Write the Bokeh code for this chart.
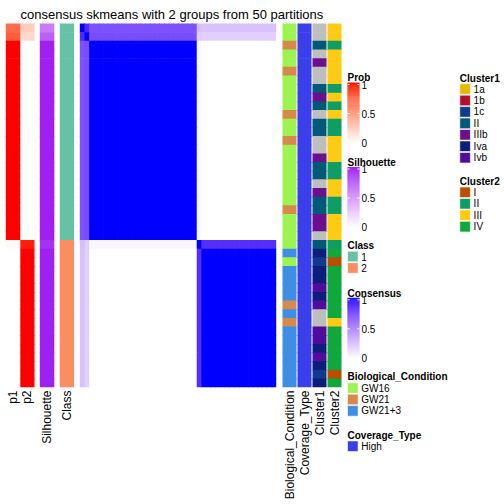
import math
from bokeh.plotting import figure
from bokeh.models import Range1d, ColumnDataSource, LinearColorMapper, CategoricalColorMapper
from bokeh.core.properties import value
from bokeh.embed import file_html
from bokeh.resources import INLINE

# ---------------- data ----------------
title_text = "consensus skmeans with 2 groups from 50 partitions"

p1 = [0.73, 0.80,
      1, 1, 1, 1, 1, 1, 1, 1, 1, 1, 1, 1, 1, 1, 1, 1, 1, 1, 1, 1, 1, 1, 1,
      0.03,
      0, 0, 0, 0, 0, 0, 0, 0, 0, 0, 0, 0, 0, 0, 0, 0]
p2 = [0.27, 0.20,
      0, 0, 0, 0, 0, 0, 0, 0, 0, 0, 0, 0, 0, 0, 0, 0, 0, 0, 0, 0, 0, 0, 0,
      0.97,
      1, 1, 1, 1, 1, 1, 1, 1, 1, 1, 1, 1, 1, 1, 1, 1]
silhouette = [0.65, 0.78,
              1, 1, 1, 1, 1, 1, 1, 1, 1, 1, 1, 1, 1, 1, 1, 1, 1, 1, 1, 1, 1, 1, 1,
              0.95,
              1, 1, 1, 1, 1, 1, 1, 1, 1, 1, 1, 1, 1, 1, 1, 1]
class_label = ["1", "1",
               "1", "1", "1", "1", "1", "1", "1", "1", "1", "1", "1", "1",
               "1", "1", "1", "1", "1", "1", "1", "1", "1", "1", "1",
               "2",
               "2", "2", "2", "2", "2", "2", "2", "2", "2", "2", "2", "2", "2", "2", "2", "2"]
biological_condition = [
    "GW16", "GW16", "GW21", "GW16", "GW16", "GW21", "GW16", "GW16", "GW16", "GW16",
    "GW21", "GW16", "GW16", "GW21", "GW16", "GW16", "GW16", "GW16", "GW16", "GW16",
    "GW16", "GW21", "GW16", "GW16", "GW16", "GW16", "GW21+3", "GW16", "GW21+3", "GW21+3",
    "GW21+3", "GW21+3", "GW21", "GW21+3", "GW21", "GW21+3", "GW21+3", "GW21+3", "GW21+3", "GW21+3",
    "GW21+3", "GW21+3"]
coverage_type = ["High"] * 42
cluster1 = [
    "NA", "NA", "II", "NA", "IIIb", "NA", "NA", "II", "IIIb", "II",
    "NA", "II", "II", "NA", "NA", "IIIb", "II", "II", "NA", "IIIb",
    "II", "II", "IIIb", "IIIb", "NA", "II", "Iva", "1c", "Iva", "Iva",
    "Ivb", "Iva", "Ivb", "NA", "NA", "Ivb", "Ivb", "Iva", "Ivb", "Iva",
    "1c", "Iva"]
cluster2 = [
    "III", "III", "II", "III", "III", "III", "III", "II", "III", "II",
    "III", "II", "II", "III", "III", "III", "II", "II", "III", "III",
    "II", "II", "III", "III", "III", "II", "IV", "I", "IV", "IV",
    "IV", "IV", "IV", "IV", "III", "IV", "IV", "IV", "IV", "IV",
    "I", "IV"]
# consensus: samples fall in blocks of identical rows; block-to-block consensus values
sample_group = ["a", "b",
                "c", "c", "c", "c", "c", "c", "c", "c", "c", "c", "c", "c",
                "c", "c", "c", "c", "c", "c", "c", "c", "c", "c", "c",
                "d",
                "e", "e", "e", "e", "e", "e", "e", "e", "e", "e", "e", "e", "e", "e", "e", "e"]
group_names = ["a", "b", "c", "d", "e"]
consensus_block = [
    [1.00, 0.90, 0.75, 0.28, 0.27],
    [0.90, 1.00, 0.77, 0.22, 0.21],
    [0.75, 0.77, 1.00, 0.04, 0.00],
    [0.28, 0.22, 0.04, 1.00, 0.89],
    [0.27, 0.21, 0.00, 0.89, 1.00],
]

class_levels = ["1", "2"]
class_colors = ["#66C2A5", "#FC8D62"]
bio_levels = ["GW16", "GW21", "GW21+3"]
bio_colors = ["#9DF34F", "#D5894B", "#3E8EE4"]
coverage_levels = ["High"]
coverage_colors = ["#3B3FEB"]
cluster1_levels = ["1a", "1b", "1c", "II", "IIIb", "Iva", "Ivb"]
cluster1_colors = ["#E8B800", "#B0102C", "#0F3A8F", "#005A77", "#6B0F8F", "#0B1F7A", "#520C9B"]
cluster2_levels = ["I", "II", "III", "IV"]
cluster2_colors = ["#B84F00", "#0E9E63", "#FDCB12", "#10A83A"]
na_color = "#BEBEBE"
legend_ticks = [0, 0.5, 1]
legend_tick_labels = ["0", "0.5", "1"]

# ---------------- LAB colour ramps ----------------
def _lin(c):
    c = c / 255.0
    return c / 12.92 if c <= 0.04045 else ((c + 0.055) / 1.055) ** 2.4

def _gam(c):
    c = max(0.0, min(1.0, c))
    v = 12.92 * c if c <= 0.0031308 else 1.055 * c ** (1 / 2.4) - 0.055
    return int(round(v * 255))

def _f(t):
    return t ** (1 / 3) if t > (6 / 29) ** 3 else t / (3 * (6 / 29) ** 2) + 4 / 29

def _finv(t):
    return t ** 3 if t > 6 / 29 else 3 * (6 / 29) ** 2 * (t - 4 / 29)

def hex_to_lab(h):
    h = h.lstrip("#")
    r, g, b = [_lin(int(h[i:i + 2], 16)) for i in (0, 2, 4)]
    X = 0.4124564 * r + 0.3575761 * g + 0.1804375 * b
    Y = 0.2126729 * r + 0.7151522 * g + 0.0721750 * b
    Z = 0.0193339 * r + 0.1191920 * g + 0.9503041 * b
    fx, fy, fz = _f(X / 0.95047), _f(Y), _f(Z / 1.08883)
    return 116 * fy - 16, 500 * (fx - fy), 200 * (fy - fz)

def lab_to_hex(L, a, b):
    fy = (L + 16) / 116
    fx = fy + a / 500
    fz = fy - b / 200
    X, Y, Z = 0.95047 * _finv(fx), _finv(fy), 1.08883 * _finv(fz)
    r = 3.2404542 * X - 1.5371385 * Y - 0.4985314 * Z
    g = -0.9692660 * X + 1.8760108 * Y + 0.0415560 * Z
    bb = 0.0556434 * X - 0.2040259 * Y + 1.0572252 * Z
    return "#%02x%02x%02x" % (_gam(r), _gam(g), _gam(bb))

def lab_ramp(c0, c1, n=256):
    l0, l1 = hex_to_lab(c0), hex_to_lab(c1)
    out = []
    for k in range(n):
        t = k / (n - 1)
        out.append(lab_to_hex(*[l0[i] + (l1[i] - l0[i]) * t for i in range(3)]))
    return out

prob_map = LinearColorMapper(palette=lab_ramp("#FFFFFF", "#FF0000"), low=0, high=1)
sil_map = LinearColorMapper(palette=lab_ramp("#FFFFFF", "#A020F0"), low=0, high=1)
cons_map = LinearColorMapper(palette=lab_ramp("#FFFFFF", "#0000FF"), low=0, high=1)
class_map = CategoricalColorMapper(factors=class_levels, palette=class_colors, nan_color=na_color)
bio_map = CategoricalColorMapper(factors=bio_levels, palette=bio_colors, nan_color=na_color)
cov_map = CategoricalColorMapper(factors=coverage_levels, palette=coverage_colors, nan_color=na_color)
c1_map = CategoricalColorMapper(factors=cluster1_levels, palette=cluster1_colors, nan_color=na_color)
c2_map = CategoricalColorMapper(factors=cluster2_levels, palette=cluster2_colors, nan_color=na_color)

# ---------------- figure ----------------
p = figure(width=504, height=504, x_range=Range1d(0, 504), y_range=Range1d(504, 0),
           x_axis_location=None, y_axis_location=None, min_border=0,
           output_backend="svg", toolbar_location=None)
p.outline_line_color = None
p.xgrid.grid_line_color = None
p.ygrid.grid_line_color = None
p.background_fill_color = "white"
p.border_fill_color = "white"

FONT = value("Liberation Sans")
N = len(p1)
ROW_TOP, ROW_BOTTOM = 23.0, 386.7
row_h = (ROW_BOTTOM - ROW_TOP) / N
OVER = 0.7  # small overlap so neighbouring cells leave no anti-aliasing seam
tops = [ROW_TOP + i * row_h for i in range(N)]
bottoms = [min(ROW_TOP + (i + 1) * row_h + OVER, ROW_BOTTOM) for i in range(N)]

def add_column(x0, x1, vals, mapper):
    src = ColumnDataSource(dict(left=[x0] * N, right=[x1] * N, top=tops, bottom=bottoms, v=list(vals)))
    fc = {"field": "v", "transform": mapper}
    p.quad(left="left", right="right", top="top", bottom="bottom", source=src,
           fill_color=fc, line_color=None)

col_spans = {
    "p1": (5.3, 19.8), "p2": (19.8, 34.0), "Silhouette": (39.3, 53.8), "Class": (59.3, 73.6),
    "Biological_Condition": (282.0, 296.0), "Coverage_Type": (297.0, 311.0),
    "Cluster1": (312.0, 326.0), "Cluster2": (327.0, 341.0),
}
add_column(col_spans["p1"][0], col_spans["p1"][1] + OVER, p1, prob_map)
add_column(*col_spans["p2"], p2, prob_map)
add_column(*col_spans["Silhouette"], silhouette, sil_map)
add_column(*col_spans["Class"], class_label, class_map)
add_column(*col_spans["Biological_Condition"], biological_condition, bio_map)
add_column(*col_spans["Coverage_Type"], coverage_type, cov_map)
add_column(*col_spans["Cluster1"], cluster1, c1_map)
add_column(*col_spans["Cluster2"], cluster2, c2_map)

# consensus matrix
CX0, CX1 = 79.3, 275.7
col_w = (CX1 - CX0) / N
cl, cr, ct, cb, cv = [], [], [], [], []
for i in range(N):
    gi = group_names.index(sample_group[i])
    for j in range(N):
        gj = group_names.index(sample_group[j])
        cl.append(CX0 + j * col_w)
        cr.append(min(CX0 + (j + 1) * col_w + OVER, CX1))
        ct.append(tops[i])
        cb.append(bottoms[i])
        cv.append(consensus_block[gi][gj])
csrc = ColumnDataSource(dict(left=cl, right=cr, top=ct, bottom=cb, v=cv))
cfc = {"field": "v", "transform": cons_map}
p.quad(left="left", right="right", top="top", bottom="bottom", source=csrc,
       fill_color=cfc, line_color=None)

# title
p.text(x=[20], y=[14.3], text=[title_text], text_font=FONT, text_font_size="13px",
       text_align="left", text_baseline="alphabetic", text_color="black")

# column labels (rotated)
lab_names = list(col_spans.keys())
lab_x = [(col_spans[k][0] + col_spans[k][1]) / 2 for k in lab_names]
p.text(x=lab_x, y=[390] * len(lab_names), text=lab_names, text_font=FONT, text_font_size="12px",
       angle=math.pi / 2, text_align="right", text_baseline="middle", text_color="black")

# ---------------- legends ----------------
def legend_title(x, y, t):
    p.text(x=[x], y=[y], text=[t], text_font=FONT, text_font_size="10px", text_font_style="bold",
           text_align="left", text_baseline="alphabetic", text_color="black")

def colorbar(x0, x1, y_top, y_bot, mapper, nstrip=60):
    h = (y_bot - y_top) / nstrip
    vs = [(k + 0.5) / nstrip for k in range(nstrip)]
    src = ColumnDataSource(dict(left=[x0] * nstrip, right=[x1] * nstrip,
                                bottom=[y_bot - k * h for k in range(nstrip)],
                                top=[y_bot - (k + 1) * h - (0.6 if k < nstrip - 1 else 0) for k in range(nstrip)],
                                v=vs))
    fc = {"field": "v", "transform": mapper}
    p.quad(left="left", right="right", top="top", bottom="bottom", source=src,
           fill_color=fc, line_color=None)
    ty = [y_bot - 1 - t * (y_bot - y_top - 3) for t in legend_ticks]
    p.segment(x0=[x0] * 3 + [x1 - 2.2] * 3, x1=[x0 + 2.2] * 3 + [x1] * 3, y0=ty + ty, y1=ty + ty,
              line_color="white", line_width=1)
    p.text(x=[x1 + 2] * 3, y=ty, text=legend_tick_labels, text_font=FONT, text_font_size="10px",
           text_align="left", text_baseline="middle", text_color="black")

def discrete(x, y0, levels, colors, pitch=11.45, box=10.6):
    ys = [y0 + k * pitch for k in range(len(levels))]
    p.quad(left=[x] * len(levels), right=[x + box] * len(levels),
           top=[y - box / 2 for y in ys], bottom=[y + box / 2 for y in ys],
           fill_color=colors, line_color="white", line_width=0.6)
    p.text(x=[x + box + 3.2] * len(levels), y=ys, text=levels, text_font=FONT, text_font_size="10px",
           text_align="left", text_baseline="middle", text_color="black")

LX = 347.0
legend_title(LX, 77.0, "Prob")
colorbar(LX, LX + 12, 82.0, 143.0, prob_map)
legend_title(LX, 162.0, "Silhouette")
colorbar(LX, LX + 12, 166.5, 227.5, sil_map)
legend_title(LX, 245.3, "Class")
discrete(LX, 256.0, class_levels, class_colors)
legend_title(LX, 292.7, "Consensus")
colorbar(LX, LX + 12, 297.3, 358.3, cons_map)
legend_title(LX, 376.3, "Biological_Condition")
discrete(LX, 387.5, bio_levels, bio_colors)
legend_title(LX, 434.7, "Coverage_Type")
discrete(LX, 445.7, coverage_levels, coverage_colors)

RX = 459.3
legend_title(RX, 77.7, "Cluster1")
discrete(RX, 88.5, cluster1_levels, cluster1_colors)
legend_title(RX, 181.0, "Cluster2")
discrete(RX, 191.8, cluster2_levels, cluster2_colors)

open("out.html", "w").write(file_html(p, INLINE))
